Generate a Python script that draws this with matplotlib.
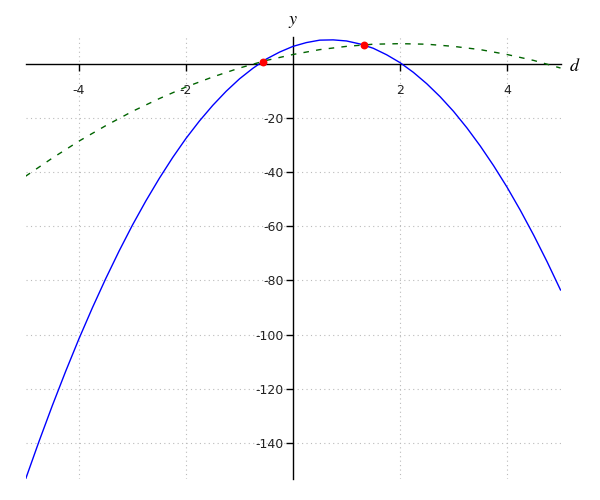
import matplotlib
matplotlib.use("Agg")
import matplotlib.pyplot as plt

plt.rcParams['mathtext.fontset'] = 'stix'
plt.rcParams['font.family'] = ['DejaVu Sans']

# Blue solid curve
x_blue = [-5, -4.75, -4.5, -4.25, -4, -3.75, -3.5, -3.25, -3, -2.75, -2.5, -2.25,
          -2, -1.75, -1.5, -1.25, -1, -0.75, -0.5, -0.25, 0, 0.25, 0.5, 0.75, 1,
          1.25, 1.5, 1.75, 2, 2.25, 2.5, 2.75, 3, 3.25, 3.5, 3.75, 4, 4.25, 4.5,
          4.75, 5]
y_blue = [-153.5, -139.6, -126.3, -113.6, -101.5, -90.1, -79.3, -69.1, -59.5,
          -50.6, -42.3, -34.6, -27.5, -21.1, -15.3, -10.1, -5.5, -1.6, 1.8, 4.4,
          6.5, 7.9, 8.8, 8.9, 8.5, 7.4, 5.8, 3.4, 0.5, -3.1, -7.3, -12.1, -17.5,
          -23.6, -30.3, -37.6, -45.5, -54.1, -63.3, -73.1, -83.5]

# Green dashed curve
x_green = [-5, -4.5, -4, -3.5, -3, -2.5, -2, -1.5, -1, -0.5, 0, 0.5, 1, 1.5, 2,
           2.5, 3, 3.5, 4, 4.5, 5]
y_green = [-41.5, -34.8, -28.5, -22.8, -17.5, -12.8, -8.5, -4.8, -1.5, 1.3, 3.5,
           5.3, 6.5, 7.3, 7.5, 7.3, 6.5, 5.3, 3.5, 1.3, -1.5]

# Red intersection points
x_pts = [-0.57, 1.32]
y_pts = [0.88, 7.11]

x_ticks = [-4, -2, 2, 4]
y_ticks = [-140, -120, -100, -80, -60, -40, -20]

fig = plt.figure(figsize=(6, 5), dpi=100)
ax = fig.add_axes([25.5 / 600, (500 - 479.4) / 500, 535 / 600, (479.4 - 36.9) / 500])

ax.plot(x_blue, y_blue, color='blue', lw=1.0, zorder=3)
ax.plot(x_green, y_green, color='darkgreen', lw=1.0, dashes=(4.0, 5.2), zorder=3)
ax.scatter(x_pts, y_pts, color='red', s=32, zorder=5, linewidths=0)

ax.set_xlim(-5, 5)
ax.set_ylim(-153.5, 10)

for s in ['top', 'right']:
    ax.spines[s].set_visible(False)
ax.spines['left'].set_position(('data', 0))
ax.spines['bottom'].set_position(('data', 0))
for s in ['left', 'bottom']:
    ax.spines[s].set_linewidth(1.0)
    ax.spines[s].set_color('black')

ax.set_xticks(x_ticks)
ax.set_yticks(y_ticks)
ax.set_xticklabels([str(t) for t in x_ticks])
ax.set_yticklabels([str(t) for t in y_ticks])
ax.tick_params(axis='x', direction='out', length=4.8, width=1, pad=9.5, labelsize=9, colors='black')
ax.tick_params(axis='y', direction='out', length=4.8, width=1, pad=2, labelsize=9, colors='black')
for lab in ax.get_xticklabels() + ax.get_yticklabels():
    lab.set_color('#222222')

ax.grid(True, linestyle=(0, (1, 3)), color='#bbbbbb', lw=0.8)
ax.set_axisbelow(True)

fig.text(293 / 600, 1 - 21 / 500, '$y$', ha='center', va='center', fontsize=13)
fig.text(569 / 600, 1 - 66 / 500, '$d$', ha='left', va='center', fontsize=13)

fig.savefig('out.png', dpi=100)
